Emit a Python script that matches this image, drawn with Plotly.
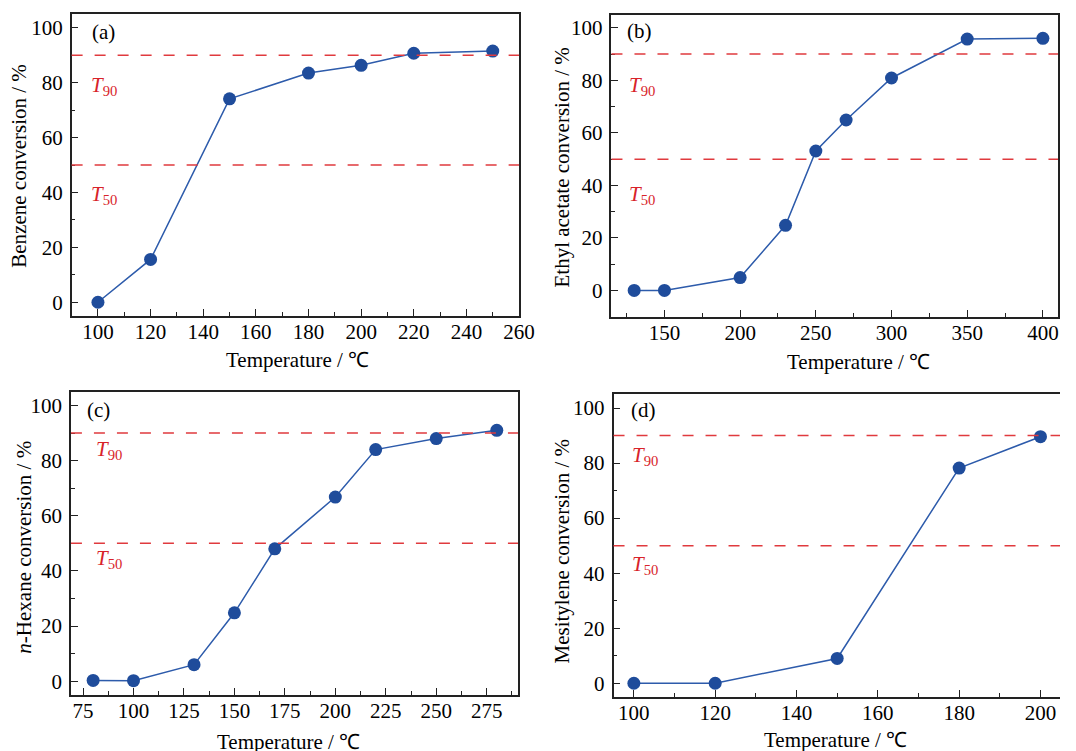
import plotly.graph_objects as go

# ---- data ----
temp_a = [100, 120, 150, 180, 200, 220, 250]
conv_a = [0, 15.6, 74.1, 83.5, 86.3, 90.7, 91.5]

temp_b = [130, 150, 200, 230, 250, 270, 300, 350, 400]
conv_b = [0, 0, 4.9, 24.8, 53.1, 64.9, 80.9, 95.7, 96.0]

temp_c = [80, 100, 130, 150, 170, 200, 220, 250, 280]
conv_c = [0.3, 0.2, 6.0, 24.8, 48.0, 66.8, 84.0, 88.0, 91.0]

temp_d = [100, 120, 150, 180, 200]
conv_d = [0, 0, 9.0, 78.2, 89.6]

t90_level = 90
t50_level = 50

ylabels = ["Benzene conversion / %", "Ethyl acetate conversion / %",
           "<i>n</i>-Hexane conversion / %", "Mesitylene conversion / %"]
panel_tags = ["(a)", "(b)", "(c)", "(d)"]
xlabel = "Temperature / ℃"

W, H = 1076, 751
FONT = "Liberation Serif"
FS = 21
BLUE_M = "#1f4c9b"
BLUE_L = "#2d5bab"
RED = "#e03a3e"


def px(x, y):
    return x / W, 1 - y / H


# panel pixel boxes: left, right, top, bottom
boxes = [
    (72.7, 526.9, 14.0, 316.0),
    (620.7, 1074.0, 14.7, 316.7),
    (72.0, 525.8, 391.7, 695.0),
    (622.8, 1076.0, 394.3, 697.0),
]
xranges = [[90, 260], [115, 410], [69, 290.5], [95, 204.8]]
yranges = [[-5, 105], [-10, 105], [-5, 105], [-5, 105]]
xdticks = [20, 50, 25, 20]
xminor = [10, 25, 12.5, 10]

series = [(temp_a, conv_a), (temp_b, conv_b), (temp_c, conv_c), (temp_d, conv_d)]

fig = go.Figure()
layout = dict(width=W, height=H, margin=dict(l=0, r=0, t=0, b=0),
              plot_bgcolor="white", paper_bgcolor="white", showlegend=False,
              font=dict(family=FONT, size=FS, color="black"))

annotations = []
shapes = []

for i, ((xs, ys), (l, r, t, b)) in enumerate(zip(series, boxes)):
    n = "" if i == 0 else str(i + 1)
    xa, ya = "x" + n, "y" + n
    fig.add_trace(go.Scatter(x=xs, y=ys, mode="lines+markers", xaxis=xa, yaxis=ya,
                             line=dict(color=BLUE_L, width=1.5),
                             marker=dict(color=BLUE_M, size=13)))
    common = dict(showgrid=False, zeroline=False, showline=True, linecolor="#222",
                  linewidth=1.5, ticks="inside", ticklen=7, tickwidth=1.3, tickcolor="#222",
                  tickfont=dict(family=FONT, size=FS, color="black"))
    layout["xaxis" + n] = dict(domain=[l / W, r / W], range=xranges[i], anchor=ya,
                              dtick=xdticks[i], tick0=0, mirror=True,
                              minor=dict(ticks="inside", ticklen=4, dtick=xminor[i], tick0=0,
                                         tickcolor="#222", tickwidth=1.2),
                              ticklabelstandoff=-4, **common)
    layout["yaxis" + n] = dict(domain=[1 - b / H, 1 - t / H], range=yranges[i], anchor=xa,
                              dtick=20, tick0=0, mirror=(i != 3),
                              minor=dict(ticks="inside", ticklen=4, dtick=10, tick0=0,
                                         tickcolor="#222", tickwidth=1.2),
                              ticklabelstandoff=3, **common)
    for lvl in (t90_level, t50_level):
        shapes.append(dict(type="line", xref=xa + " domain", yref=ya, x0=0, x1=1, y0=lvl, y1=lvl,
                           line=dict(color=RED, width=1.5, dash="11px,12px")))

# panel tags
for tag, (x, y) in zip(panel_tags, [(91, 32), (634, 31), (86, 410), (638, 410)]):
    ax, ay = px(x, y)
    annotations.append(dict(text=tag, x=ax, y=ay, xref="paper", yref="paper",
                            xanchor="left", yanchor="middle", showarrow=False,
                            font=dict(family=FONT, size=FS, color="black")))

# T labels
tpos = [((90, 86), (90, 195)), ((636, 86), (636, 195)),
        ((95, 450), (95, 559)), ((640, 456), (640, 565))]
for (p90, p50) in tpos:
    for (x, y), txt in ((p90, "<i>T</i><sub>90</sub>"), (p50, "<i>T</i><sub>50</sub>")):
        ax, ay = px(x, y)
        annotations.append(dict(text=txt, x=ax, y=ay, xref="paper", yref="paper",
                                xanchor="left", yanchor="middle", showarrow=False,
                                font=dict(family=FONT, size=FS, color="#d8232a")))

# axis titles
xt_pos = [(302, 360), (871, 362), (293, 742), (848, 740)]
yt_pos = [(19, 166), (570, 168), (24, 547), (570, 551)]
for (x, y) in xt_pos:
    ax, ay = px(x, y)
    annotations.append(dict(text=xlabel, x=ax, y=ay, xref="paper", yref="paper",
                            xanchor="center", yanchor="middle", showarrow=False,
                            font=dict(family=FONT, size=FS, color="black")))
for lab, (x, y) in zip(ylabels, yt_pos):
    ax, ay = px(x, y)
    annotations.append(dict(text=lab, x=ax, y=ay, xref="paper", yref="paper",
                            xanchor="center", yanchor="middle", showarrow=False, textangle=-90,
                            font=dict(family=FONT, size=FS, color="black")))

layout["annotations"] = annotations
layout["shapes"] = shapes
fig.update_layout(**layout)
fig.write_html("out.html")
